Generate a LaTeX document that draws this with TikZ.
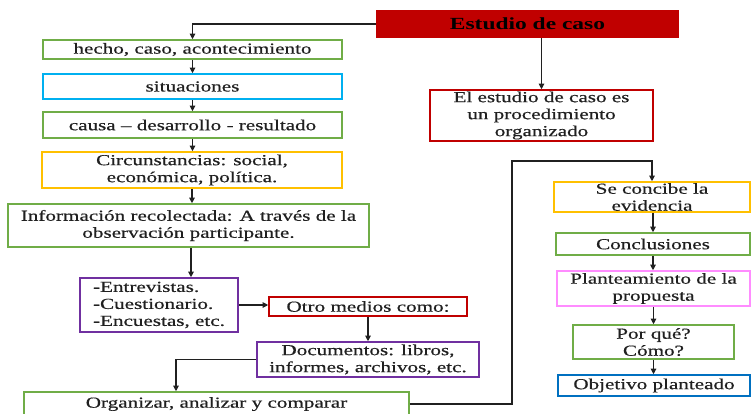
\documentclass[tikz,border=0pt]{standalone}
\usepackage{fontspec}
\setmainfont[FakeStretch=1.38, UprightFeatures={FakeBold=0.5}]{Liberation Serif}
\usetikzlibrary{arrows.meta}
\definecolor{cgreen}{HTML}{70AD47}
\definecolor{ccyan}{HTML}{00B0F0}
\definecolor{corange}{HTML}{FFC000}
\definecolor{cpurple}{HTML}{7030A0}
\definecolor{cred}{HTML}{C00000}
\definecolor{cpink}{HTML}{FF8CFF}
\definecolor{cblue}{HTML}{0070C0}
\definecolor{ctext}{HTML}{202020}
\begin{document}
\begin{tikzpicture}[x=1pt,y=-1pt,
  box/.style={draw, line width=1.6pt, inner xsep=2pt, inner ysep=1pt, align=center,
    text=ctext, font=\fontsize{15.3}{17}\selectfont},
  arr/.style={line width=1.1pt, draw=ctext, -{Triangle[length=5.5pt,width=5.5pt]}}]
\clip (0,0) rectangle (751,413);
% left column
\node[box, fill=cred, draw=cred, minimum width=301pt, minimum height=26pt, text=black,
  font=\fontsize{17}{19}\selectfont\bfseries] (estudio) at (527.5,24) {Estudio de caso};
\node[box, draw=cgreen, minimum width=299pt, minimum height=19pt] (hecho) at (192.5,49.5) {hecho, caso, acontecimiento};
\node[box, draw=ccyan, minimum width=299pt, minimum height=25pt] (sit) at (192.5,86.5) {situaciones};
\node[box, draw=cgreen, minimum width=299pt, minimum height=26pt] (causa) at (192.5,125) {causa – desarrollo - resultado};
\node[box, draw=corange, minimum width=300pt, minimum height=36pt] (circ) at (192,170) {Circunstancias: social,\\económica, política.};
\node[box, draw=cgreen, minimum width=361pt, minimum height=43pt] (info) at (188.5,225.5) {Información recolectada: A través de la\\observación participante.};
\node[box, draw=cpurple, minimum width=158pt, minimum height=54pt, align=left] (entr) at (159,305) {-Entrevistas.\\-Cuestionario.\\-Encuestas, etc.};
\node[box, draw=cred, minimum width=198pt, minimum height=19pt] (otro) at (368,306.5) {Otro medios como:};
\node[box, draw=cpurple, minimum width=222pt, minimum height=35pt] (docs) at (368,359.5) {Documentos: libros,\\informes, archivos, etc.};
\node[box, draw=cgreen, minimum width=385pt, minimum height=24pt] (org) at (216.5,404) {Organizar, analizar y comparar};
% right side
\node[box, draw=cred, minimum width=223pt, minimum height=51pt] (elcaso) at (541.5,115.5) {El estudio de caso es\\un procedimiento\\organizado};
\node[box, draw=corange, minimum width=196pt, minimum height=30pt] (concibe) at (652,197) {Se concibe la\\evidencia};
\node[box, draw=cgreen, minimum width=194pt, minimum height=22pt] (concl) at (653,244) {Conclusiones};
\node[box, draw=cpink, minimum width=193pt, minimum height=35pt] (plant) at (653.5,288.5) {Planteamiento de la\\propuesta};
\node[box, draw=cgreen, minimum width=161pt, minimum height=34pt] (porque) at (653.5,342) {Por qué?\\Cómo?};
\node[box, draw=cblue, minimum width=192pt, minimum height=21pt] (obj) at (654,385.5) {Objetivo planteado};
% turning points
\coordinate (tA) at (512,404);
\coordinate (tB) at (512,161);
\coordinate (tC) at (176,359.5);
% connectors
\draw[arr] (estudio.west) -| (hecho.north);
\draw[arr] (hecho.south) -- (hecho.south |- sit.north);
\draw[arr] (sit.south) -- (sit.south |- causa.north);
\draw[arr] (causa.south) -- (causa.south |- circ.north);
\draw[arr] (circ.south) -- (circ.south |- info.north);
\draw[arr] ([xshift=2.5pt]info.south) -- ([xshift=2.5pt]info.south |- entr.north);
\draw[arr] (entr.east) -- (entr.east -| otro.west);
\draw[arr] (otro.south) -- (otro.south |- docs.north);
\draw[arr] (docs.west) -- (tC) -- (tC |- org.north);
\draw[arr] (org.east) -- (tA) -- (tB) -| (concibe.north);
\draw[arr] (estudio.south -| elcaso.north) -- (elcaso.north);
\draw[arr] (concibe.south -| concl.north) -- (concl.north);
\draw[arr] (concl.south) -- (concl.south |- plant.north);
\draw[arr] (plant.south) -- (plant.south |- porque.north);
\draw[arr] (porque.south) -- (porque.south |- obj.north);
\end{tikzpicture}
\end{document}
